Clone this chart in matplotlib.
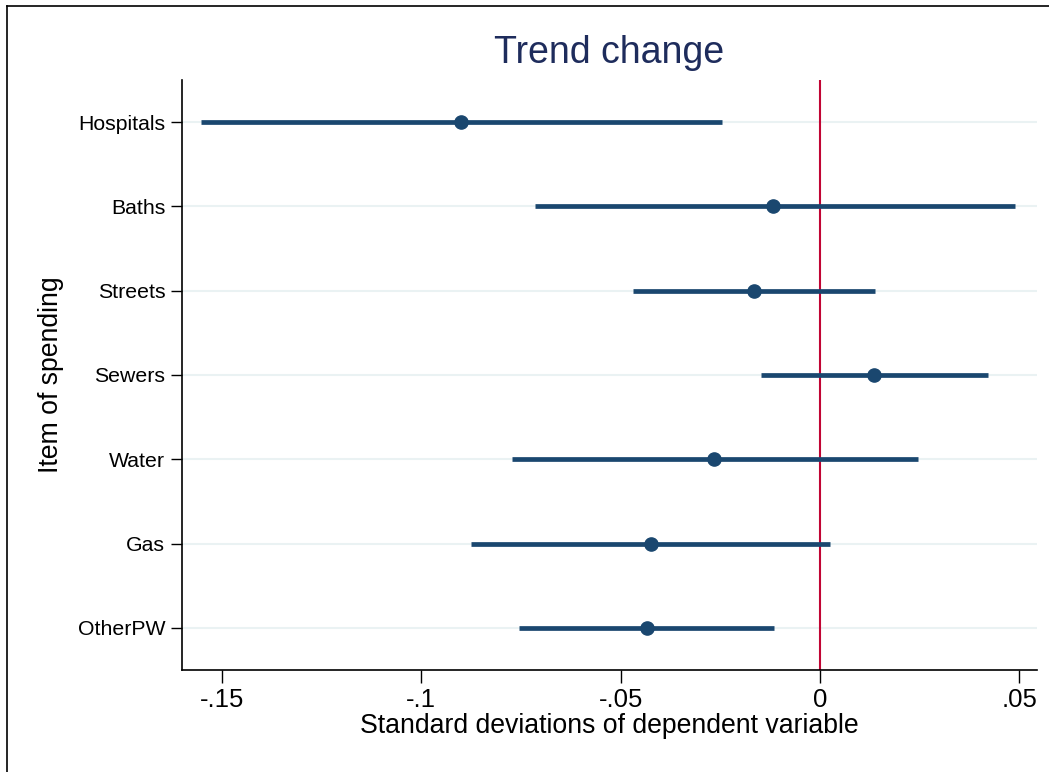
import numpy as np
import matplotlib.pyplot as plt
from matplotlib.lines import Line2D

plt.rcParams["font.family"] = ["Liberation Sans", "DejaVu Sans"]

items = ["Hospitals", "Baths", "Streets", "Sewers", "Water", "Gas", "OtherPW"]
coef = [-0.090, -0.0118, -0.0165, 0.0135, -0.0265, -0.0425, -0.0435]
ci_low = [-0.1553, -0.0715, -0.0468, -0.0148, -0.0773, -0.0875, -0.0755]
ci_high = [-0.0245, 0.0488, 0.0138, 0.0420, 0.0245, 0.0025, -0.0115]
xticks = [-0.15, -0.1, -0.05, 0, 0.05]
xticklabels = ["-.15", "-.1", "-.05", "0", ".05"]

navy = "#1a476f"
title_blue = "#1e2c5c"
red = "#c10534"

fig = plt.figure(figsize=(10.49, 7.72), dpi=100)
ax = fig.add_axes([182 / 1049, 1 - 670 / 772, (1037 - 182) / 1049, (670 - 80) / 772])

ypos = np.arange(len(items))[::-1] + 1

for y in ypos:
    ax.axhline(y, color="#eaf2f3", lw=1.5, zorder=0)

ax.axvline(0, color=red, lw=1.5, zorder=1)
ax.hlines(ypos, ci_low, ci_high, color=navy, lw=3.4, zorder=2)
ax.plot(coef, ypos, "o", color=navy, ms=9.5, zorder=3)

ax.set_xlim(-0.16, 0.0544)
ax.set_ylim(0.5, 7.5)
ax.set_yticks(ypos)
ax.set_yticklabels(items, fontsize=15.3)
ax.set_xticks(xticks)
ax.set_xticklabels(xticklabels, fontsize=18.5)
ax.tick_params(axis="y", length=8, width=1, pad=4)
ax.tick_params(axis="x", length=9, width=1, pad=4)

for s in ["top", "right"]:
    ax.spines[s].set_visible(False)
for s in ["left", "bottom"]:
    ax.spines[s].set_linewidth(1.2)

ax.set_xlabel("Standard deviations of dependent variable", fontsize=19.2, labelpad=1)
ax.set_ylabel("Item of spending", fontsize=19.2, labelpad=10)
ax.set_title("Trend change", fontsize=27, color=title_blue, pad=12)

# outer frame (only top and left edges visible in the crop)
fig.add_artist(Line2D([7 / 1049, 7 / 1049], [0, 1 - 6 / 772], color="black", lw=1.2))
fig.add_artist(Line2D([7 / 1049, 1], [1 - 6 / 772, 1 - 6 / 772], color="black", lw=1.2))

fig.savefig("out.png", dpi=100)
